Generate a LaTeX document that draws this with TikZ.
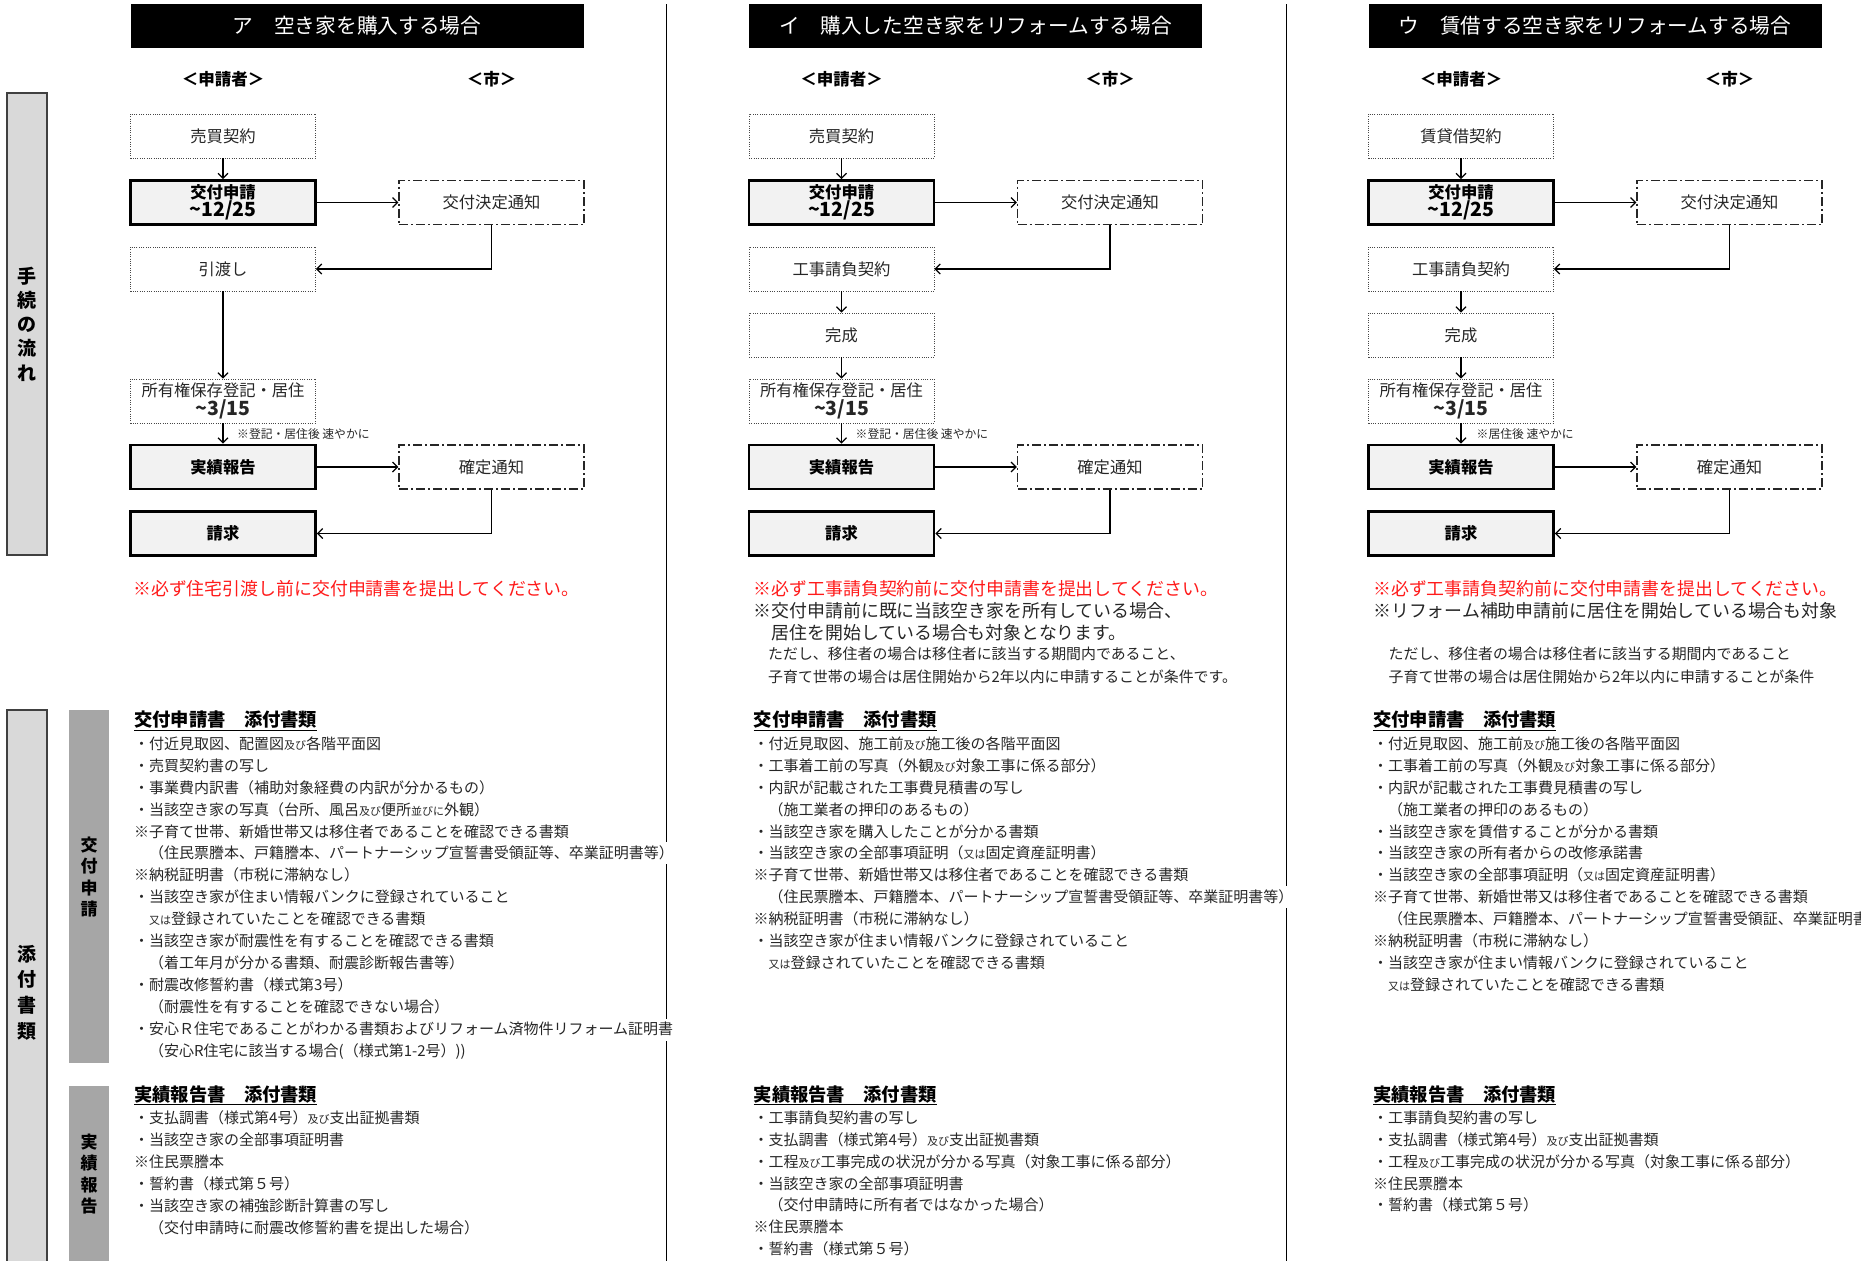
\documentclass[tikz,border=0pt]{standalone}
\usepackage{fontspec}
\setmainfont{Noto Sans CJK JP}
\usetikzlibrary{arrows.meta}
\definecolor{ink}{HTML}{262626}
\definecolor{sidegray}{HTML}{D9D9D9}
\definecolor{sideline}{HTML}{404040}
\definecolor{bargray}{HTML}{A6A6A6}
\definecolor{boxfill}{HTML}{F2F2F2}
\definecolor{notered}{HTML}{FF1A1A}
\newcommand\fsz[2]{\fontsize{#1}{#2}\selectfont}
\newcommand\smk[1]{{\fontsize{11}{21.9}\selectfont #1}}
\newcommand\tld{\textasciitilde}
\begin{document}
\begin{tikzpicture}[x=1pt,y=-1pt,
  dotbox/.style={draw=ink!85, line width=0.9pt, dash pattern=on 1pt off 1.3pt, minimum width=185pt, minimum height=44pt, inner sep=0pt, font=\fsz{16.3}{19}, text=ink, align=center},
  boldbox/.style={draw=black, line width=2.8pt, fill=boxfill, minimum width=185pt, minimum height=44pt, inner sep=0pt, font=\bfseries\fsz{16.3}{17}, text=black, align=center},
  citybox/.style={draw=ink, line width=1.3pt, dash pattern=on 9pt off 3pt on 2pt off 3pt, minimum width=185pt, minimum height=44pt, inner sep=0pt, font=\fsz{16.3}{19}, text=ink},
  conn/.style={draw=black, line width=1.2pt, -{Straight Barb[length=5pt,width=10pt,line width=1.2pt]}},
  ttl/.style={fill=black, minimum width=453pt, minimum height=44pt, inner sep=0pt, text=white, font=\fsz{20.7}{24}},
  hdr/.style={inner sep=0pt, font=\bfseries\fsz{16.5}{19}, text=black},
  smallnote/.style={anchor=west, inner sep=0pt, font=\fsz{11.8}{13}, text=ink},
  rednote/.style={anchor=west, inner sep=0pt, font=\fsz{17.9}{21}, text=notered},
  blknote/.style={anchor=west, inner sep=0pt, font=\fsz{17.9}{21}, text=ink},
  subnote/.style={anchor=west, inner sep=0pt, font=\fsz{14.9}{18}, text=ink},
  lhd/.style={anchor=west, inner sep=0pt, font=\bfseries\fsz{18.3}{20}, text=black},
  lst/.style={anchor=north west, align=left, inner sep=0pt, font=\fsz{15}{21.9}, text=ink},
  sidebox/.style={draw=sideline, line width=1.5pt, fill=sidegray, minimum width=40pt, inner sep=0pt, align=center, font=\bfseries\fsz{19}{24.3}, text=black},
  bar/.style={fill=bargray, minimum width=40pt, inner sep=0pt},
  barlbl/.style={inner sep=0pt, align=center, font=\bfseries\fsz{17}{21.3}, text=black},
  sep/.style={draw=black, line width=1pt}
]
\useasboundingbox (0,0) rectangle (1861,1261);
\clip (0,0) rectangle (1861,1261);

% side labels
\node[sidebox, minimum height=462pt] (side1) at (27,324) {手\\続\\の\\流\\れ};
\node[sidebox, minimum height=565pt, font=\bfseries\fsz{19}{25.7}] (side2) at (27,992.5) {添\\付\\書\\類};
\node[bar, minimum height=353pt] (bar1) at (89,886.5) {};
\node[barlbl] (bar1t) at (89,877) {交\\付\\申\\請};
\node[bar, minimum height=184pt] (bar2) at (89,1178) {};
\node[barlbl] (bar2t) at (89,1174) {実\\績\\報\\告};

% separators
\draw[sep] (666,4) -- (666,842);
\draw[sep] (666,864) -- (666,1019);
\draw[sep] (666,1041) -- (666,1261);
\draw[sep] (1286,4) -- (1286,886);
\draw[sep] (1286,908) -- (1286,1261);

% ===== Column A =====
\node[ttl] (aT) at (357,25.5) {ア　空き家を購入する場合};
\node[hdr] (aH1) at (223,79.5) {＜申請者＞};
\node[hdr] (aH2) at (491.5,79.5) {＜市＞};
\node[dotbox] (a1) at (223,136) {売買契約};
\node[boldbox] (a2) at (223,202.5) {交付申請\\{\fsz{19.5}{17}\tld 12/25}};
\node[citybox] (ac1) at (491.5,202.5) {交付決定通知};
\node[dotbox] (a3) at (223,269) {引渡し};
\node[dotbox] (a5) at (223,401) {所有権保存登記・居住\\{\bfseries\fsz{19.5}{16}\tld 3/15}};
\node[smallnote] (an) at (237,434) {※登記・居住後 速やかに};
\node[boldbox] (a6) at (223,467) {実績報告};
\node[citybox] (ac2) at (491.5,467) {確定通知};
\node[boldbox] (a7) at (223,533.5) {請求};
\draw[conn] (a1) -- (a2);
\draw[conn] (a2) -- (ac1);
\draw[conn] (ac1.south) |- (a3.east);
\draw[conn] (a3) -- (a5);
\draw[conn] (a5) -- (a6);
\draw[conn] (a6) -- (ac2);
\draw[conn] (ac2.south) |- (a7.east);
\node[rednote] (aR) at (133,589) {※必ず住宅引渡し前に交付申請書を提出してください。};

\node[lhd] (aL1h) at (134,721) {\underline{交付申請書　添付書類}};
\node[lst] (aL1) at (134,736.5) {・付近見取図、配置図\smk{及び}各階平面図\\
・売買契約書の写し\\
・事業費内訳書（補助対象経費の内訳が分かるもの）\\
・当該空き家の写真（台所、風呂\smk{及び}便所\smk{並びに}外観）\\
※子育て世帯、新婚世帯又は移住者であることを確認できる書類\\
　（住民票謄本、戸籍謄本、パートナーシップ宣誓書受領証等、卒業証明書等）\\
※納税証明書（市税に滞納なし）\\
・当該空き家が住まい情報バンクに登録されていること\\
　\smk{又は}登録されていたことを確認できる書類\\
・当該空き家が耐震性を有することを確認できる書類\\
　（着工年月が分かる書類、耐震診断報告書等）\\
・耐震改修誓約書（様式第3号）\\
　（耐震性を有することを確認できない場合）\\
・安心Ｒ住宅であることがわかる書類およびリフォーム済物件リフォーム証明書\\
　（安心R住宅に該当する場合(（様式第1-2号）))};
\node[lhd] (aL2h) at (134,1095.5) {\underline{実績報告書　添付書類}};
\node[lst] (aL2) at (134,1110.5) {・支払調書（様式第4号）\smk{及び}支出証拠書類\\
・当該空き家の全部事項証明書\\
※住民票謄本\\
・誓約書（様式第５号）\\
・当該空き家の補強診断計算書の写し\\
　（交付申請時に耐震改修誓約書を提出した場合）};

% ===== Column B =====
\begin{scope}[xshift=618.5pt]
\node[ttl] (bT) at (357,25.5) {イ　購入した空き家をリフォームする場合};
\node[hdr] (bH1) at (223,79.5) {＜申請者＞};
\node[hdr] (bH2) at (491.5,79.5) {＜市＞};
\node[dotbox] (b1) at (223,136) {売買契約};
\node[boldbox] (b2) at (223,202.5) {交付申請\\{\fsz{19.5}{17}\tld 12/25}};
\node[citybox] (bc1) at (491.5,202.5) {交付決定通知};
\node[dotbox] (b3) at (223,269) {工事請負契約};
\node[dotbox] (b4) at (223,335) {完成};
\node[dotbox] (b5) at (223,401) {所有権保存登記・居住\\{\bfseries\fsz{19.5}{16}\tld 3/15}};
\node[smallnote] (bn) at (237,434) {※登記・居住後 速やかに};
\node[boldbox] (b6) at (223,467) {実績報告};
\node[citybox] (bc2) at (491.5,467) {確定通知};
\node[boldbox] (b7) at (223,533.5) {請求};
\draw[conn] (b1) -- (b2);
\draw[conn] (b2) -- (bc1);
\draw[conn] (bc1.south) |- (b3.east);
\draw[conn] (b3) -- (b4);
\draw[conn] (b4) -- (b5);
\draw[conn] (b5) -- (b6);
\draw[conn] (b6) -- (bc2);
\draw[conn] (bc2.south) |- (b7.east);
\node[rednote] (bR) at (135,589) {※必ず工事請負契約前に交付申請書を提出してください。};
\node[blknote] (bN1) at (135,611) {※交付申請前に既に当該空き家を所有している場合、};
\node[blknote] (bN2) at (135,633) {　居住を開始している場合も対象となります。};
\node[subnote] (bN3) at (149.5,654) {ただし、移住者の場合は移住者に該当する期間内であること、};
\node[subnote] (bN4) at (149.5,676.5) {子育て世帯の場合は居住開始から2年以内に申請することが条件です。};

\node[lhd] (bL1h) at (135,721) {\underline{交付申請書　添付書類}};
\node[lst] (bL1) at (135,736.5) {・付近見取図、施工前\smk{及び}施工後の各階平面図\\
・工事着工前の写真（外観\smk{及び}対象工事に係る部分）\\
・内訳が記載された工事費見積書の写し\\
　（施工業者の押印のあるもの）\\
・当該空き家を購入したことが分かる書類\\
・当該空き家の全部事項証明（\smk{又は}固定資産証明書）\\
※子育て世帯、新婚世帯又は移住者であることを確認できる書類\\
　（住民票謄本、戸籍謄本、パートナーシップ宣誓書受領証等、卒業証明書等）\\
※納税証明書（市税に滞納なし）\\
・当該空き家が住まい情報バンクに登録されていること\\
　\smk{又は}登録されていたことを確認できる書類};
\node[lhd] (bL2h) at (135,1095.5) {\underline{実績報告書　添付書類}};
\node[lst] (bL2) at (135,1110.5) {・工事請負契約書の写し\\
・支払調書（様式第4号）\smk{及び}支出証拠書類\\
・工程\smk{及び}工事完成の状況が分かる写真（対象工事に係る部分）\\
・当該空き家の全部事項証明書\\
　（交付申請時に所有者ではなかった場合）\\
※住民票謄本\\
・誓約書（様式第５号）};
\end{scope}

% ===== Column C =====
\begin{scope}[xshift=1238pt]
\node[ttl] (cT) at (357,25.5) {ウ　賃借する空き家をリフォームする場合};
\node[hdr] (cH1) at (223,79.5) {＜申請者＞};
\node[hdr] (cH2) at (491.5,79.5) {＜市＞};
\node[dotbox] (c1) at (223,136) {賃貸借契約};
\node[boldbox] (c2) at (223,202.5) {交付申請\\{\fsz{19.5}{17}\tld 12/25}};
\node[citybox] (cc1) at (491.5,202.5) {交付決定通知};
\node[dotbox] (c3) at (223,269) {工事請負契約};
\node[dotbox] (c4) at (223,335) {完成};
\node[dotbox] (c5) at (223,401) {所有権保存登記・居住\\{\bfseries\fsz{19.5}{16}\tld 3/15}};
\node[smallnote] (cn) at (238.5,434) {※居住後 速やかに};
\node[boldbox] (c6) at (223,467) {実績報告};
\node[citybox] (cc2) at (491.5,467) {確定通知};
\node[boldbox] (c7) at (223,533.5) {請求};
\draw[conn] (c1) -- (c2);
\draw[conn] (c2) -- (cc1);
\draw[conn] (cc1.south) |- (c3.east);
\draw[conn] (c3) -- (c4);
\draw[conn] (c4) -- (c5);
\draw[conn] (c5) -- (c6);
\draw[conn] (c6) -- (cc2);
\draw[conn] (cc2.south) |- (c7.east);
\node[rednote] (cR) at (135,589) {※必ず工事請負契約前に交付申請書を提出してください。};
\node[blknote] (cN1) at (135,611) {※リフォーム補助申請前に居住を開始している場合も対象};
\node[subnote] (cN3) at (150.5,654) {ただし、移住者の場合は移住者に該当する期間内であること};
\node[subnote] (cN4) at (150.5,676.5) {子育て世帯の場合は居住開始から2年以内に申請することが条件};

\node[lhd] (cL1h) at (135,721) {\underline{交付申請書　添付書類}};
\node[lst] (cL1) at (135,736.5) {・付近見取図、施工前\smk{及び}施工後の各階平面図\\
・工事着工前の写真（外観\smk{及び}対象工事に係る部分）\\
・内訳が記載された工事費見積書の写し\\
　（施工業者の押印のあるもの）\\
・当該空き家を賃借することが分かる書類\\
・当該空き家の所有者からの改修承諾書\\
・当該空き家の全部事項証明（\smk{又は}固定資産証明書）\\
※子育て世帯、新婚世帯又は移住者であることを確認できる書類\\
　（住民票謄本、戸籍謄本、パートナーシップ宣誓書受領証、卒業証明書等）\\
※納税証明書（市税に滞納なし）\\
・当該空き家が住まい情報バンクに登録されていること\\
　\smk{又は}登録されていたことを確認できる書類};
\node[lhd] (cL2h) at (135,1095.5) {\underline{実績報告書　添付書類}};
\node[lst] (cL2) at (135,1110.5) {・工事請負契約書の写し\\
・支払調書（様式第4号）\smk{及び}支出証拠書類\\
・工程\smk{及び}工事完成の状況が分かる写真（対象工事に係る部分）\\
※住民票謄本\\
・誓約書（様式第５号）};
\end{scope}
\end{tikzpicture}
\end{document}
